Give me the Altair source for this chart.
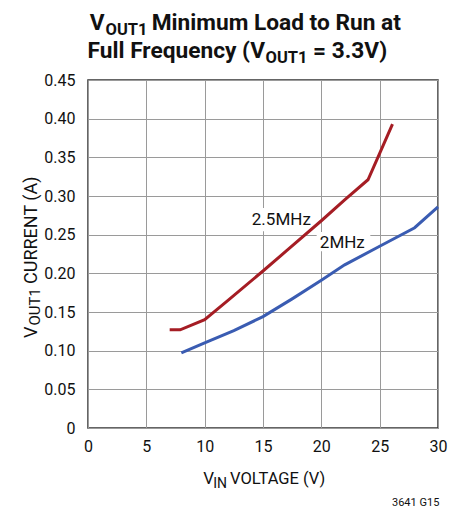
import altair as alt
import pandas as pd

# ---- data ----
red_x = [7.0, 7.9, 10.0, 12.0, 15.0, 17.0, 20.0, 22.0, 24.0, 25.0, 26.1]
red_y = [0.127, 0.127, 0.140, 0.165, 0.203, 0.229, 0.268, 0.295, 0.321, 0.355, 0.393]
blue_x = [8.0, 10.0, 12.5, 15.0, 17.5, 20.0, 22.0, 25.0, 28.0, 30.0]
blue_y = [0.097, 0.110, 0.126, 0.144, 0.167, 0.191, 0.211, 0.235, 0.259, 0.286]
series_names = ["2.5MHz", "2MHz"]
series_colors = ["#a51d24", "#3a5cb2"]
x_ticks = [0, 5, 10, 15, 20, 25, 30]
y_ticks = [0, 0.05, 0.10, 0.15, 0.20, 0.25, 0.30, 0.35, 0.40, 0.45]
label_x = [16.57, 21.8]
label_y = [0.2694, 0.2388]
box_x = [14.0, 19.6]
box_x2 = [19.3, 24.2]
box_y = [0.2545, 0.2285]
box_y2 = [0.2845, 0.2535]

FONT = "Roboto, sans-serif"

rows = []
for x, y in zip(red_x, red_y):
    rows.append({"vin": x, "cur": y, "s": series_names[0]})
for x, y in zip(blue_x, blue_y):
    rows.append({"vin": x, "cur": y, "s": series_names[1]})
df = pd.DataFrame(rows)

lab = pd.DataFrame({"x": label_x, "y": label_y, "t": series_names,
                    "bx": box_x, "bx2": box_x2, "by": box_y, "by2": box_y2})

xs = alt.Scale(domain=[0, 30], nice=False, zero=False)
ys = alt.Scale(domain=[0, 0.45], nice=False)

x_axis = alt.Axis(values=x_ticks, title=None)
y_axis = alt.Axis(values=y_ticks, title=None,
                  labelExpr="datum.value == 0 ? '0' : format(datum.value, '.2f')")

boxes = alt.Chart(lab).mark_rect(color="white").encode(
    x=alt.X("bx:Q", scale=xs, axis=x_axis),
    x2="bx2",
    y=alt.Y("by:Q", scale=ys, axis=y_axis),
    y2="by2")

lines = alt.Chart(df).mark_line(strokeWidth=3).encode(
    x=alt.X("vin:Q", scale=xs, axis=x_axis),
    y=alt.Y("cur:Q", scale=ys, axis=y_axis),
    color=alt.Color("s:N", scale=alt.Scale(domain=series_names, range=series_colors), legend=None),
    detail="s:N",
)

labels = alt.Chart(lab).mark_text(fontSize=17, font=FONT, color="#111").encode(
    x=alt.X("x:Q", scale=xs, axis=x_axis), y=alt.Y("y:Q", scale=ys, axis=y_axis), text="t:N")

# text pieces (title / axis titles with subscripts), positions relative to plot origin
pieces = [
    # text, x, y, size, bold, align, angle
    ("V", 16.5, -50, 22.7, True, "right", 0),
    ("OUT1", 17.5, -45, 16.5, True, "left", 0),
    ("Minimum Load to Run at", 63.7, -50, 22.7, True, "left", 0),
    ("Full Frequency (V", 177, -21.7, 22.7, True, "right", 0),
    ("OUT1", 177.5, -16.7, 16.5, True, "left", 0),
    ("= 3.3V)", 225, -21.7, 22.7, True, "left", 0),
    ("V", 115.3, 403.7, 17, False, "left", 0),
    ("IN", 125.3, 408, 14, False, "left", 0),
    ("VOLTAGE (V)", 142, 403.7, 16.5, False, "left", 0),
    ("V", -51.3, 258, 18, False, "left", 270),
    ("OUT1", -48, 245.5, 15, False, "left", 270),
    ("CURRENT (A)", -51.3, 204, 18, False, "left", 270),
    ("3641 G15", 304, 426, 11, False, "left", 0),
]
layers = [boxes, lines, labels]
for t, px, py, fs, bold, al, ang in pieces:
    m = alt.Chart(pd.DataFrame({"t": [t]})).mark_text(
        fontSize=fs, font=FONT, fontWeight="bold" if bold else "normal",
        align=al, baseline="alphabetic", angle=ang, color="#111",
    ).encode(x=alt.value(px), y=alt.value(py), text="t:N")
    layers.append(m)

chart = alt.layer(*layers).properties(
    width=350, height=348,
    autosize=alt.AutoSizeParams(type="none"),
    padding={"left": 80, "top": 72, "right": 20, "bottom": 80},
).configure_view(stroke="#333", strokeWidth=1.5).configure_axis(
    gridColor="#9a9a9a", gridWidth=1, gridOpacity=1, grid=True,
    domain=False, ticks=False, labelFontSize=16, labelFont=FONT,
    labelColor="#111", labelFlush=False, labelOverlap=False,
).configure_axisX(labelPadding=10).configure_axisY(labelPadding=13)

chart.save("out.html", embed_options={"renderer": "svg", "actions": False})
